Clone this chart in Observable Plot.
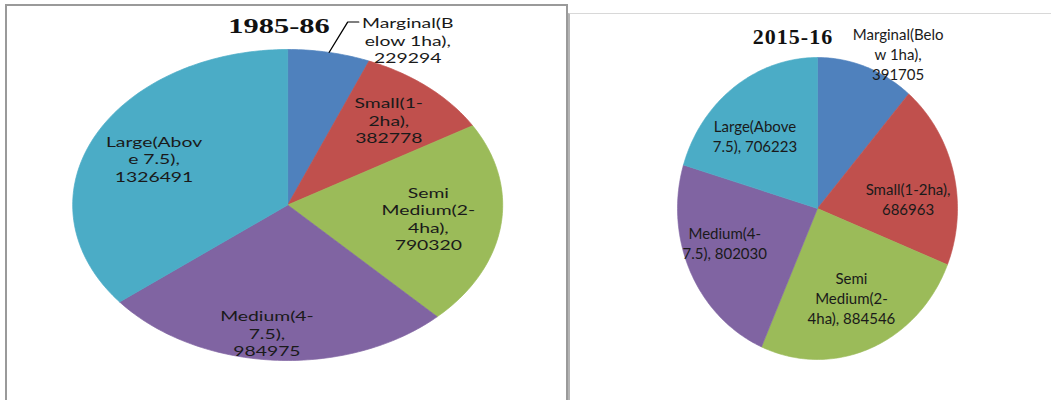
<!DOCTYPE html>
<html><head><meta charset="utf-8">
<script src="https://cdn.jsdelivr.net/npm/d3@7"></script>
<script src="https://cdn.jsdelivr.net/npm/@observablehq/plot@0.6"></script>
<style>
body{margin:0;background:#fff;width:1051px;height:400px;overflow:hidden;position:relative;font-family:Lato,sans-serif}
.box{position:absolute;box-sizing:border-box}
#leftBox{left:5px;top:4px;width:563px;height:400px;border:2px solid #9a9a9a;border-bottom:none}
#rightBox{left:568px;top:13px;width:490px;height:400px;border-left:2px solid #b4b4b4;border-top:1px solid #d8d8d8}
.chart{position:absolute;top:0}
.title{position:absolute;font-family:"Liberation Serif",serif;font-weight:bold;color:#111;white-space:nowrap;line-height:1;transform-origin:0 0}
</style></head><body>
<div id="leftBox" class="box"></div>
<div id="rightBox" class="box"></div>
<div id="c1" class="chart" style="left:0"></div>
<div id="c2" class="chart" style="left:569px"></div>
<div id="t1" class="title">1985-86</div>
<div id="t2" class="title">2015-16</div>
<script>
// ---- data ----
const categories = ["Marginal", "Small", "Semi Medium", "Medium", "Large"];
const colors = ["#4F81BD", "#C0504D", "#9BBB59", "#8064A2", "#4BACC6"];
const values1985 = [229294, 382778, 790320, 984975, 1326491];
const values2015 = [391705, 686963, 884546, 802030, 706223];
const names1985 = ["Marginal(B\nelow 1ha)", "Small(1-\n2ha)", "Semi\nMedium(2-\n4ha)", "Medium(4-\n7.5)", "Large(Abov\ne 7.5)"];
const seps1985 = [",\n", ",\n", ",\n", ",\n", ",\n"];
const names2015 = ["Marginal(Belo\nw 1ha)", "Small(1-2ha)", "Semi\nMedium(2-\n4ha)", "Medium(4-\n7.5)", "Large(Above\n7.5)"];
const seps2015 = [",\n", ",\n", ", ", ", ", ", "];

// ---- layout (label radius fraction, angle shift in degrees) ----
const labelLayout1985 = [null, [0.72, 0], [0.66, 0], [0.83, 3], [0.69, 0]];
const labelLayout2015 = [null, [0.65, 8], [0.64, 0], [0.70, 6], [0.66, -6]];
const S = 215 / 155.5; // horizontal stretch of the left chart

function pieData(values, names, seps) {
  const total = d3.sum(values);
  let cum = 0;
  const pts = [], info = [];
  values.forEach((v, i) => {
    const a0 = cum / total * 2 * Math.PI; cum += v;
    const a1 = cum / total * 2 * Math.PI;
    const n = Math.max(2, Math.ceil((a1 - a0) * 180 / Math.PI));
    pts.push({cat: categories[i], x: 0, y: 0});
    for (let k = 0; k <= n; k++) {
      const a = a0 + (a1 - a0) * k / n;
      pts.push({cat: categories[i], x: Math.sin(a), y: Math.cos(a)});
    }
    pts.push({cat: categories[i], x: 0, y: 0});
    info.push({cat: categories[i], mid: (a0 + a1) / 2, text: names[i] + seps[i] + v});
  });
  return {pts, info};
}

function drawPie(o) {
  const {pts, info} = pieData(o.values, o.names, o.seps);
  const ppuX = (o.xRange[1] - o.xRange[0]) / 2;
  const ppuY = (o.yRange[0] - o.yRange[1]) / 2;
  const inner = [];
  info.forEach((d, i) => {
    const l = o.layout[i];
    if (!l) return;
    const a = d.mid + l[1] * Math.PI / 180;
    inner.push({x: l[0] * Math.sin(a), y: l[0] * Math.cos(a), text: d.text});
  });
  const od = info[o.outside.index];
  const edge = {x: Math.sin(od.mid), y: Math.cos(od.mid), text: od.text};
  const marks = [
    Plot.line(pts, {x: "x", y: "y", z: "cat", fill: "cat", stroke: "cat", strokeWidth: 0.6, curve: "linear"}),
    Plot.text(inner, {x: "x", y: "y", text: "text", fontSize: o.fontSize, lineHeight: o.lineHeight,
      fill: "#1a1a1a", fontFamily: "Lato", textAnchor: "middle"}),
    Plot.text([edge], {x: "x", y: "y", text: "text", fontSize: o.fontSize, lineHeight: o.lineHeight,
      fill: "#1a1a1a", fontFamily: "Lato", textAnchor: "middle", dx: o.outside.dx, dy: o.outside.dy})
  ];
  if (o.leader) {
    const L = o.leader;
    const lp = [
      {x: edge.x, y: edge.y},
      {x: edge.x + L.dx1 / ppuX, y: edge.y - L.dy1 / ppuY},
      {x: edge.x + L.dx2 / ppuX, y: edge.y - L.dy1 / ppuY}
    ];
    marks.push(Plot.line(lp, {x: "x", y: "y", stroke: "#000", strokeWidth: 1}));
  }
  return Plot.plot({
    width: o.width, height: o.height, margin: 0,
    x: {domain: [-1, 1], range: o.xRange, axis: null},
    y: {domain: [-1, 1], range: o.yRange, axis: null},
    color: {domain: categories, range: colors},
    style: {background: "transparent", overflow: "visible"},
    marks
  });
}

// Left chart (drawn as circle, stretched horizontally)
const cxL = 287 / S;
const left = drawPie({
  values: values1985, names: names1985, seps: seps1985,
  width: Math.round(560 / S), height: 400,
  xRange: [cxL - 155.5, cxL + 155.5], yRange: [360, 49],
  layout: labelLayout1985, fontSize: 14, lineHeight: 1.25,
  outside: {index: 0, dx: 78.6 / S, dy: -12.4},
  leader: {dx1: 18.6 / S, dy1: -30.4, dx2: 29.6 / S}
});
left.style.transform = `scaleX(${S})`;
left.style.transformOrigin = "0 0";
left.style.maxWidth = "none";
document.getElementById("c1").appendChild(left);

// Right chart
const right = drawPie({
  values: values2015, names: names2015, seps: seps2015,
  width: 482, height: 400,
  xRange: [817 - 140 - 569, 817 + 140 - 569], yRange: [359, 57],
  layout: labelLayout2015, fontSize: 15, lineHeight: 1.33,
  outside: {index: 0, dx: 32, dy: -13}
});
right.style.maxWidth = "none";
document.getElementById("c2").appendChild(right);

// Titles
const t1 = document.getElementById("t1");
t1.style.fontSize = "22px";
t1.style.left = "279px"; t1.style.top = "14.6px";
t1.style.transform = `scaleX(${S}) translateX(-50%)`;
const t2 = document.getElementById("t2");
t2.style.fontSize = "22px"; t2.style.letterSpacing = "1px";
t2.style.left = "793px"; t2.style.top = "25.6px";
t2.style.transform = "translateX(-50%)";
</script>
</body></html>
